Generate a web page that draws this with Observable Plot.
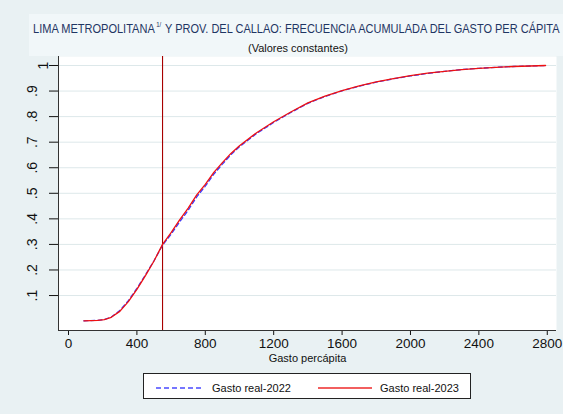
<!DOCTYPE html>
<html>
<head>
<meta charset="utf-8">
<script src="https://cdn.jsdelivr.net/npm/d3@7"></script>
<script src="https://cdn.jsdelivr.net/npm/@observablehq/plot@0.6"></script>
<style>
  html, body { margin:0; padding:0; }
  body { width:563px; height:414px; background:#e9f1f3; position:relative; overflow:hidden;
         font-family:"Liberation Sans", Arial, sans-serif; }
  #band { position:absolute; left:29px; top:14px; width:534px; height:42px; background:#f1f7f9; }
  #titles { position:absolute; left:0; top:0; }
  #chart { position:absolute; left:0; top:0; }
  #legend { position:absolute; left:143px; top:373px; width:326px; height:24px; background:#fff;
            border:1px solid #222; }
</style>
</head>
<body>
<div id="band"></div>
<div id="chart"></div>
<svg id="titles" width="563" height="60" font-family="Liberation Sans, Arial, sans-serif">
  <text class="fit" data-x="33" data-y="32.5" data-w="122" font-size="12" fill="#1f3563">LIMA METROPOLITANA</text>
  <text class="fit" data-x="156.3" data-y="26.5" data-w="5" font-size="7.5" fill="#1f3563">1/</text>
  <text class="fit" data-x="165" data-y="32.5" data-w="395" font-size="12" fill="#1f3563">Y PROV. DEL CALLAO: FRECUENCIA ACUMULADA DEL GASTO PER CÁPITA</text>
  <text class="fit" data-x="248" data-y="52" data-w="100" font-size="11" fill="#111">(Valores constantes)</text>
</svg>
<div id="legend">
  <svg width="326" height="24" font-family="Liberation Sans, Arial, sans-serif">
    <line x1="12" x2="60" y1="14" y2="14" stroke="#4a4aff" stroke-width="1.3" stroke-dasharray="5,3"/>
    <text x="68" y="18" font-size="11" fill="#111">Gasto real-2022</text>
    <line x1="174" x2="228" y1="14" y2="14" stroke="#ee2a2a" stroke-width="1.3"/>
    <text x="236" y="18" font-size="11" fill="#111">Gasto real-2023</text>
  </svg>
</div>
<script>
// Fit title texts to the widths measured in the reference (condensed look)
document.querySelectorAll("#titles text.fit").forEach(t => {
  const w = t.getComputedTextLength();
  const target = +t.dataset.w;
  t.setAttribute("transform", `translate(${t.dataset.x},${t.dataset.y}) scale(${target / w},1)`);
});

// Data
const gasto = [90, 130, 170, 210, 250, 300, 350, 400, 450, 500, 550, 600, 650, 700, 750, 800, 850, 900, 950, 1000,
               1100, 1200, 1300, 1400, 1500, 1600, 1700, 1800, 1900, 2000, 2100, 2200, 2300, 2400, 2500, 2600, 2700, 2790];
const freq2023 = [0.001, 0.002, 0.003, 0.006, 0.015, 0.038, 0.076, 0.124, 0.178, 0.235, 0.300, 0.346, 0.396, 0.442, 0.494, 0.535,
                  0.582, 0.620, 0.656, 0.686, 0.737, 0.780, 0.818, 0.854, 0.880, 0.902, 0.920, 0.936, 0.949, 0.960,
                  0.970, 0.977, 0.984, 0.989, 0.993, 0.996, 0.998, 1.000];
const freq2022 = [0.001, 0.002, 0.003, 0.006, 0.016, 0.041, 0.080, 0.128, 0.181, 0.236, 0.297, 0.340, 0.388, 0.434, 0.486, 0.528,
                  0.575, 0.614, 0.651, 0.682, 0.734, 0.777, 0.816, 0.852, 0.879, 0.901, 0.919, 0.935, 0.948, 0.959,
                  0.969, 0.977, 0.984, 0.989, 0.993, 0.996, 0.998, 1.000];
const cutoff = [550];
const xTicks = [0, 400, 800, 1200, 1600, 2000, 2400, 2800];
const yTicks = [0.1, 0.2, 0.3, 0.4, 0.5, 0.6, 0.7, 0.8, 0.9, 1];
const xDomain = [-58.5, 2854];
const yDomain = [-0.0368, 1.0352];

const rows = gasto.flatMap((g, i) => [
  {gasto: g, freq: freq2022[i], serie: "Gasto real-2022"},
  {gasto: g, freq: freq2023[i], serie: "Gasto real-2023"}
]);
const fmtY = d => d === 1 ? "1" : String(d).replace(/^0/, "");

const chart = Plot.plot({
  width: 563, height: 414,
  marginTop: 56, marginLeft: 58, marginRight: 7, marginBottom: 84,
  style: {background: "transparent", fontFamily: "Liberation Sans, Arial, sans-serif", color: "#111"},
  x: {domain: xDomain},
  y: {domain: yDomain},
  marks: [
    Plot.frame({fill: "#ffffff", stroke: null}),
    Plot.gridY(yTicks, {stroke: "#dde8ea", strokeOpacity: 1}),
    Plot.ruleX(cutoff, {stroke: "#a80000", strokeWidth: 1.1}),
    Plot.line(rows.filter(d => d.serie === "Gasto real-2022"), {x: "gasto", y: "freq", stroke: "#3a3aff", strokeWidth: 1.3, strokeDasharray: "4,3"}),
    Plot.line(rows.filter(d => d.serie === "Gasto real-2023"), {x: "gasto", y: "freq", stroke: "#ee1111", strokeWidth: 1.3}),
    Plot.axisX({ticks: xTicks, tickSize: 5, tickPadding: 3, fontSize: 13.5, label: null, tickFormat: d3.format("d")}),
    Plot.axisY({ticks: yTicks.filter(d => d < 1), tickSize: 9, tickPadding: 13, tickRotate: -90, fontSize: 14, label: null, tickFormat: fmtY}),
    Plot.axisY({ticks: yTicks.filter(d => d === 1), tickSize: 9, tickPadding: 2, tickRotate: -90, fontSize: 14, label: null, tickFormat: fmtY}),
    Plot.ruleX([xDomain[0]], {stroke: "#333"}),
    Plot.ruleY([yDomain[0]], {stroke: "#333"}),
    Plot.text(["Gasto percápita"], {frameAnchor: "bottom", dy: 31, fontSize: 11})
  ]
});
document.getElementById("chart").appendChild(chart);
</script>
</body>
</html>
